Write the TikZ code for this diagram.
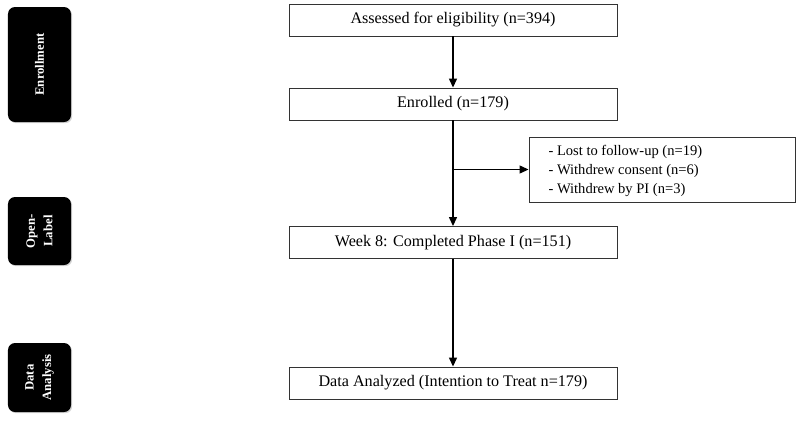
\documentclass[tikz,border=0pt]{standalone}
\usepackage{fontspec}
\setmainfont{Liberation Serif}
\usetikzlibrary{arrows.meta,shadows}
\begin{document}
\begin{tikzpicture}[x=1bp,y=-1bp,
  mainbox/.style={draw=black!80,line width=0.9bp,minimum width=328bp,minimum height=32bp,inner sep=0pt,font=\fontsize{16.2}{18}\selectfont},
  sidebox/.style={draw=black!80,line width=0.9bp,minimum width=266bp,minimum height=65bp,inner sep=0pt},
  phase/.style={fill=black,rounded corners=7bp,minimum width=63bp,inner sep=0pt,drop shadow={shadow xshift=1.2bp,shadow yshift=-1.2bp,opacity=0.35}},
  phasetext/.style={rotate=90,text=white,font=\bfseries\fontsize{12.8}{17.5}\selectfont,align=center},
  arr/.style={line width=1.3bp,-{Triangle[length=9bp,width=8bp]}}]
\useasboundingbox (0,0) rectangle (800,424);
% phase labels
\node[phase,minimum height=115bp] (ph1) at (39.5,64.5) {};
\node[phasetext] (t1) at (ph1.center) {Enrollment};
\node[phase,minimum height=68bp] (ph2) at (39.5,231) {};
\node[phasetext] (t2) at (ph2.center) {Open-\\Label};
\node[phase,minimum height=69bp] (ph3) at (39.5,377.5) {};
\node[phasetext] (t3) at (ph3.center) {Data\\Analysis};
% main boxes
\node[mainbox] (b1) at (453,20) {Assessed for eligibility (n=394)};
\node[mainbox] (b2) at (453,104) {Enrolled (n=179)};
\node[mainbox] (b3) at (453,242.5) {Week 8: Completed Phase I (n=151)};
\node[mainbox] (b4) at (453,383) {Data Analyzed (Intention to Treat n=179)};
\node[sidebox] (side) at (662,169.5) {};
\node[anchor=west,align=left,font=\fontsize{14.6}{19}\selectfont] (sidetext) at (545,171) {- Lost to follow-up (n=19)\\- Withdrew consent (n=6)\\- Withdrew by PI (n=3)};
% connectors
\draw[arr] (b1.south) -- (b2.north);
\draw[arr] (b2.south) -- (b3.north);
\draw[arr] (b2.south |- side.west) -- (side.west);
\draw[arr] (b3.south) -- (b4.north);
\end{tikzpicture}
\end{document}
